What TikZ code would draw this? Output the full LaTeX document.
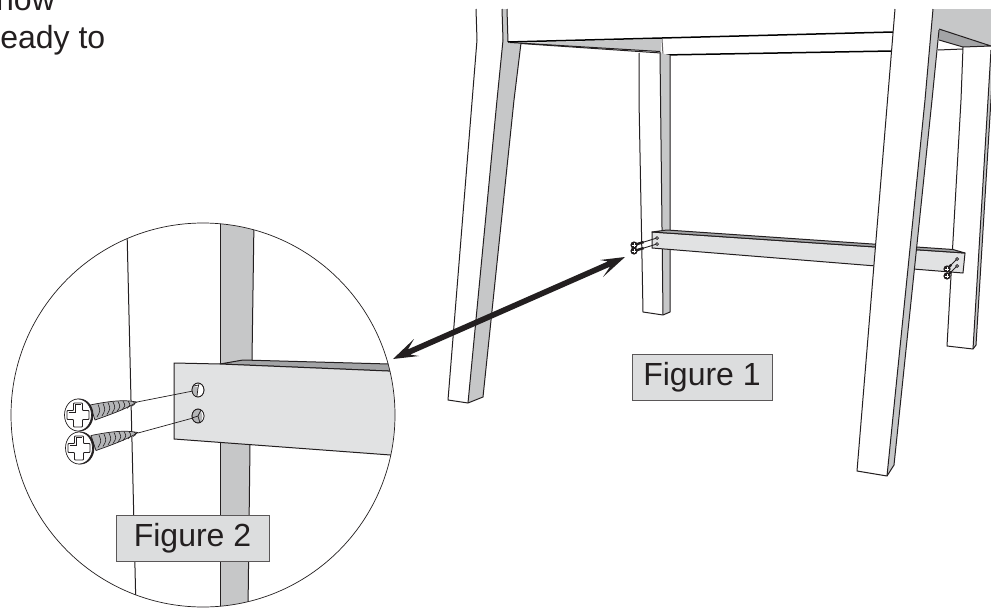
\documentclass[tikz,border=0pt]{standalone}
\usepackage{fontspec}
\usetikzlibrary{calc}
\setmainfont{Liberation Sans}
\definecolor{ink}{HTML}{231F20}
\definecolor{legside}{HTML}{C6C7C8}
\definecolor{bartop}{HTML}{A3A4A6}
\definecolor{barface}{HTML}{E1E2E3}
\definecolor{labelfill}{HTML}{DCDDDE}
\definecolor{thread}{HTML}{B4B5B7}
\tikzset{
  outline/.style={draw=ink,line width=1pt,line join=round},
  heavy/.style={draw=black,line width=1.5pt,line join=round},
  fine/.style={draw=ink,line width=0.7pt,line join=round},
  figlabel/.style={draw=ink!75,line width=0.8pt,fill=labelfill,text=ink,font=\fontsize{32}{36}\selectfont,inner sep=0pt,anchor=center},
  plaintext/.style={text=ink,font=\fontsize{32}{36}\selectfont,inner sep=0pt,anchor=base west}
}
\newcommand{\crossmark}[2]{%
  \draw[draw=ink,line width=0.9pt,fill=white,rounded corners=0.8pt]
    ({#1-4.5},{#2-12}) -- ({#1+4.5},{#2-12}) -- ({#1+4.5},{#2-4.5}) -- ({#1+11},{#2-4.5}) -- ({#1+11},{#2+4.5}) -- ({#1+4.5},{#2+4.5}) -- ({#1+4.5},{#2+12}) -- ({#1-4.5},{#2+12}) -- ({#1-4.5},{#2+4.5}) -- ({#1-11},{#2+4.5}) -- ({#1-11},{#2-4.5}) -- ({#1-4.5},{#2-4.5}) -- cycle;
  \draw[draw=ink,line width=0.4pt]
    ({#1-3},{#2-10.5}) -- ({#1+3},{#2-10.5}) ({#1-9.5},{#2-3}) -- ({#1-3},{#2-3}) -- ({#1-3},{#2-10.5});
}
\newcommand{\shank}{%
  \draw[fine,fill=thread] (90,405) .. controls (105,402) and (118,400) .. (130,401) -- (137,402)
    .. controls (128,408) and (112,414) .. (95,420) -- cycle;
  \foreach \x/\t/\b in {97/404.5/417,102/403.5/416,107/402.5/414.5,112/402/413,117/401.5/411.5,122/401/410,127/401/408.5,132/401.5/406}
    \draw[draw=ink,line width=0.6pt] ({\x+1},\t) .. controls ({\x+3.5},{(\t+\b)/2}) .. ({\x},\b);
}
\newcommand{\screwhead}[2]{%
  \draw[fine,fill=ink] ({#1+1.5},#2) ellipse [x radius=13.5,y radius=16];
  \draw[fine,fill=white] (#1,#2) ellipse [x radius=13.5,y radius=16];
  \crossmark{#1}{#2}
}
\newcommand{\screwset}{%
  \draw[fine] (137,402) -- (193,391);
  \draw[fine] (138,433) -- (193,418);
  \draw[fine,fill=white] (198,390) ellipse [x radius=6,y radius=7];
  \fill[thread] (193,386) -- (198,387) -- (197,396) -- (193,394) -- cycle;
  \draw[fine] (198,390) ellipse [x radius=6,y radius=7];
  \draw[fine] (193,386) -- (199,385) (197,396) -- (198,388) -- (199,384);
  \draw[fine,fill=thread] (198,416) ellipse [x radius=6,y radius=7];
  \fill[white] (200,410) .. controls (205,412) and (205,420) .. (201,422.5) .. controls (203,418) and (203,414) .. (200,410);
  \draw[fine] (198,416) ellipse [x radius=6,y radius=7];
  \draw[fine] (192,418) -- (198,416) -- (201,410) (198,416) -- (200,423);
  \shank
  \begin{scope}[shift={(1,30.5)}]\shank\end{scope}
  \screwhead{78}{415}
  \screwhead{79}{448}
}
% tiny screw of the overall view: head x, head y, hole x, hole y
\newcommand{\tinyscrew}[4]{%
  \coordinate (h) at (#1,#2);
  \coordinate (o) at (#3,#4);
  \draw[draw=ink,line width=0.9pt] (h) -- (o);
  \draw[draw=ink,line width=2.4pt] (h) -- ($(h)!0.42!(o)$);
  \draw[draw=ink,line width=0.7pt,fill=thread] (o) circle [radius=1.5];
  \fill[ink] (h) circle [radius=3.6];
  \draw[white,line width=0.55pt] ($(h)+(-1.7,0)$) -- ($(h)+(1.7,0)$) ($(h)+(0,-1.7)$) -- ($(h)+(0,1.7)$);
}
\begin{document}
\begin{tikzpicture}[x=1pt,y=-1pt]
\useasboundingbox (0,0) rectangle (991,608);
\fill[white] (0,0) rectangle (991,608);

% cut-off text, top left
\begin{scope}
  \clip (0,0) rectangle (300,100);
  \node[plaintext] (txtA) at (-4,10) {now};
  \node[plaintext] (txtB) at (-10.5,48) {ready to};
\end{scope}

% left front leg
\draw[outline] (476,9) -- (477,40) -- (448,400) -- (468,403);
\path[fill=legside] (503,40) -- (521,43) -- (514,100) -- (483,397) -- (468,403) -- (497,100) -- cycle;
\fill[legside] (502,9) -- (507,9) -- (508,42) -- (503,42) -- cycle;
\draw[outline] (502,9) -- (503,40) -- (497,100) -- (468,403) -- (483,397) -- (514,100) -- (521,43);
\draw[outline] (507,9) -- (508,42);

% seat rail and far rail
\fill[legside] (521,43) -- (661,39) -- (661,52) -- cycle;
\draw[outline] (521,43.5) -- (661,53);
\draw[outline] (510,42.5) -- (660,51.5);
\draw[heavy] (508,42) -- (893,32);
\draw[heavy] (663,55) -- (892,51);
\draw[outline,draw=ink!70] (662,39) -- (663,55);

% far left leg
\fill[legside] (660,53) -- (663,315) -- (670,312) -- (670,55) -- cycle;
\draw[outline] (639,53) -- (639,100) -- (643,312) -- (663,315) -- (670,312) -- (670,55);
\draw[outline] (660,53) -- (663,315);

% top right corner and far right leg
\fill[legside] (939,9) -- (991,9) -- (991,46) -- (939,29) -- cycle;
\fill[bartop] (939,29) -- (991,46) -- (963,47) -- (939,40) -- cycle;
\draw[outline] (939,29) -- (991,46) (963,47) -- (991,46) (939,40) -- (963,47);
\draw[outline] (938,50) -- (963,49);
\begin{scope}
  \clip (0,0) rectangle (991,608);
  \fill[legside] (991,50) -- (973,349) -- (976,345) -- (994,50) -- cycle;
  \draw[outline] (963,47) -- (961,100) -- (947,346) -- (973,349) -- (976,345) -- (994,50);
  \draw[outline] (991,50) -- (973,349);
\end{scope}

% long stretcher
\path[fill=barface,outline] (652,232) -- (965,253) -- (963,273) -- (652,248) -- cycle;
\path[fill=bartop,outline] (652,232) -- (667,230) -- (953,249.5) -- (965,253) -- cycle;
\tinyscrew{634}{245}{657}{238}
\tinyscrew{634}{251}{657}{244}

% near right leg (in front of stretcher)
\fill[white] (895,9) -- (857,471) -- (887,476) -- (925,100) -- (933,9) -- cycle;
\fill[legside] (933,9) -- (939,9) -- (939,29) -- (932,100) -- (894,465) -- (887,476) -- (925,100) -- cycle;
\draw[outline] (895,9) -- (857,471) -- (887,476) -- (894,465) -- (932,100) -- (939,30);
\draw[outline] (933,9) -- (925,100) -- (887,476);

\tinyscrew{947}{269}{957}{259}
\tinyscrew{947}{276}{957}{266}

% magnified view
\begin{scope}
  \clip (203,415) circle [radius=192];
  \fill[white] (203,415) circle [radius=192];
  \draw[outline] (127,230) -- (131,400) -- (136,610);
  \fill[legside] (220.3,220) -- (254,220) -- (252,360) -- (250,445) -- (248,610) -- (220.3,610) -- cycle;
  \draw[outline] (220.3,220) -- (220.3,610);
  \draw[outline] (254,220) -- (252,360) -- (250,445) -- (248,610);
  \path[fill=bartop,outline] (220,364) -- (243,360) -- (400,364.3) -- (400,371.5) -- cycle;
  \path[fill=barface,outline] (174,363) -- (220,364) -- (400,371.5) -- (400,455.7) -- (174,439) -- cycle;
  \screwset
\end{scope}
\draw[fine] (203,415) circle [radius=192];

% double arrow
\coordinate (tipA) at (393,359);
\coordinate (tipB) at (625,257);
\fill[ink] (tipA) -- (419,356) -- (410.1,354.6) -- (610.1,266.6) -- (603,277) -- (tipB) -- (600,260) -- (607.9,261.4) -- (407.9,349.4) -- (414,339) -- cycle;

% labels
\node[figlabel,minimum width=140pt,minimum height=46pt] (figA) at (702,377) {Figure 1};
\node[figlabel,minimum width=153pt,minimum height=46pt] (figB) at (192.5,538) {Figure 2};
\end{tikzpicture}
\end{document}
